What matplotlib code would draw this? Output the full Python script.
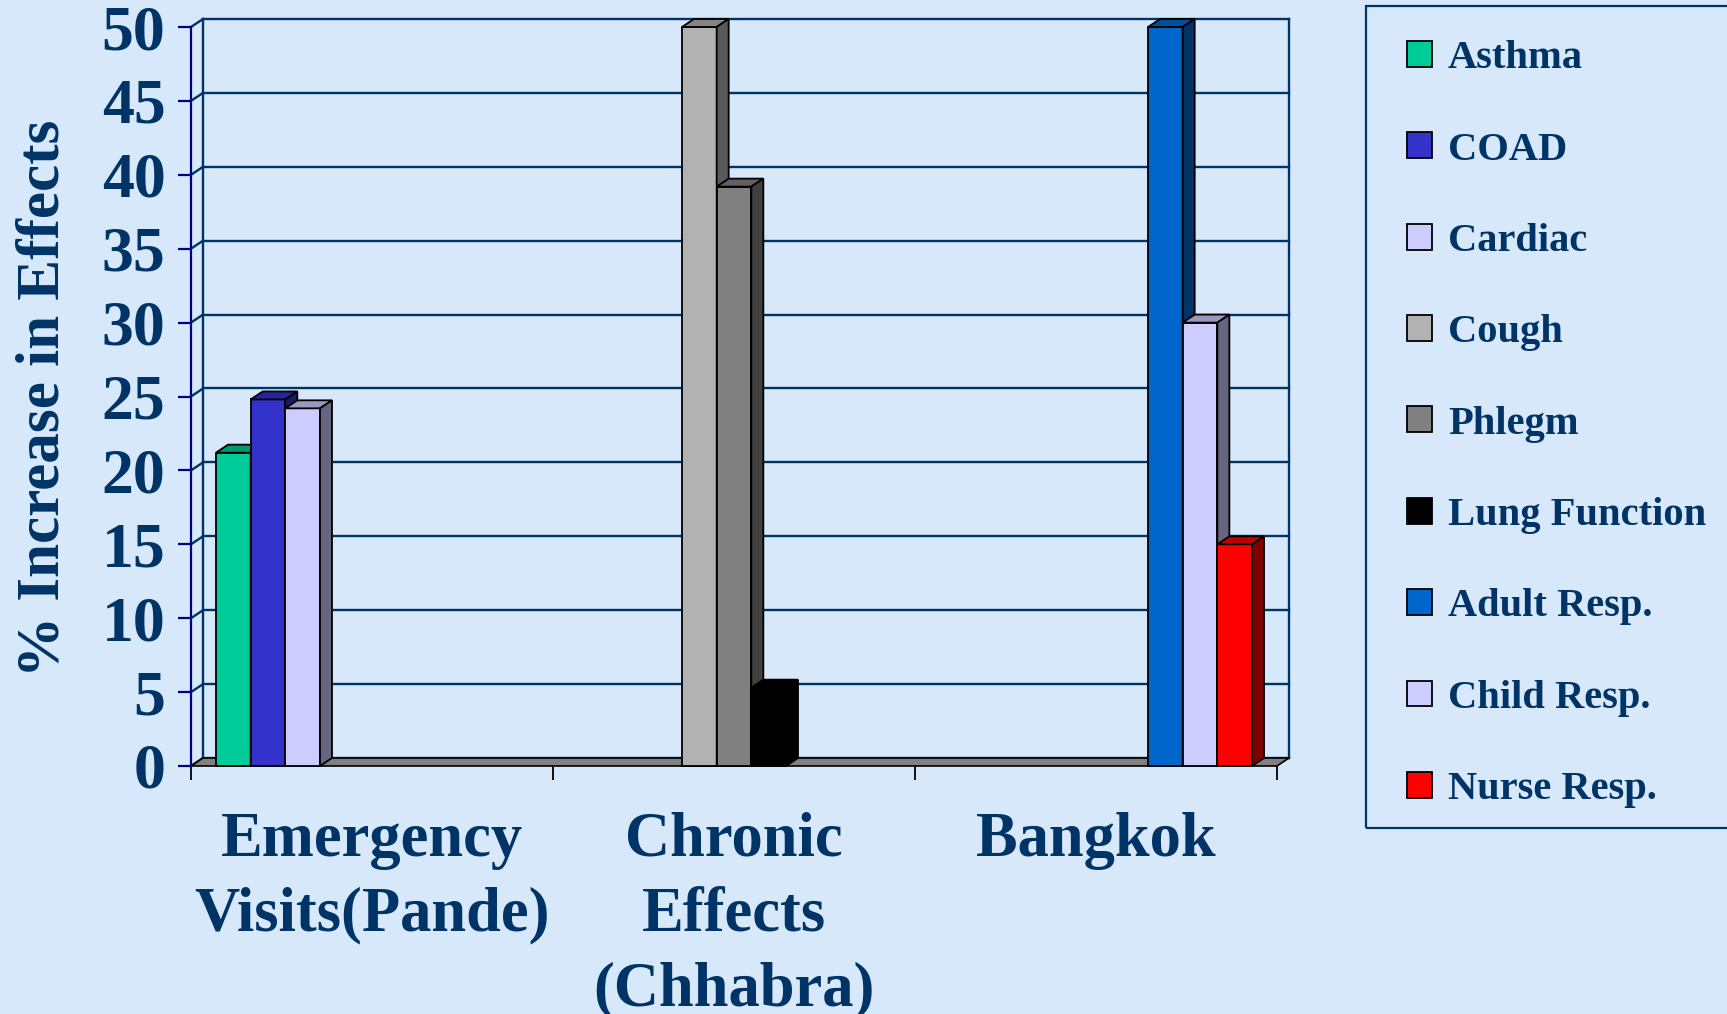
import numpy as np
import matplotlib.pyplot as plt
from matplotlib.patches import Polygon, Patch, Rectangle
from matplotlib.colors import to_rgb

# ===== ДАННЫЕ =====
categories = ['Emergency\nVisits(Pande)', 'Chronic\nEffects\n(Chhabra)', 'Bangkok']
series = ['Asthma', 'COAD', 'Cardiac', 'Cough', 'Phlegm', 'Lung Function',
          'Adult Resp.', 'Child Resp.', 'Nurse Resp.']
asthma = [21.2, 0, 0]
coad = [24.8, 0, 0]
cardiac = [24.2, 0, 0]
cough = [0, 50, 0]
phlegm = [0, 39.2, 0]
lung_function = [0, 5.3, 0]
adult_resp = [0, 0, 50]
child_resp = [0, 0, 30]
nurse_resp = [0, 0, 15]
values = [asthma, coad, cardiac, cough, phlegm, lung_function,
          adult_resp, child_resp, nurse_resp]
y_ticks = [0, 5, 10, 15, 20, 25, 30, 35, 40, 45, 50]

colors = ['#00CC99', '#3333CC', '#CCCCFF', '#B2B2B2', '#808080', '#000000',
          '#0066CC', '#CCCCFF', '#FF0000']

# ===== НАСТРОЙКИ =====
bg = '#D6E8FA'
navy = '#003366'
font = 'Liberation Serif'
W, H = 1727, 1014

# глубина 3D эффекта (в единицах данных)
DX = 12 / 362
DY = 8 / 14.78
gap = 0.069
bw = (1 - 2 * gap) / len(series)

fig = plt.figure(figsize=(W / 100, H / 100), dpi=100, facecolor=bg)
ax = fig.add_axes([191 / W, 1 - 766 / H, (1277 - 191) / W, 739 / H])
ax.set_facecolor('none')
ax.set_xlim(0, 3)
ax.set_ylim(0, 50)

# ===== ЗАДНЯЯ СТЕНКА И СЕТКА =====
for k in y_ticks:
    ax.plot([DX, 3 + DX], [k + DY, k + DY], color=navy, lw=1.7, zorder=1, clip_on=False)
    ax.plot([0, DX], [k, k + DY], color=navy, lw=1.7, zorder=1, clip_on=False)
ax.plot([DX, DX], [DY, 50 + DY], color=navy, lw=1.7, zorder=1, clip_on=False)
ax.plot([3 + DX, 3 + DX], [DY, 50 + DY], color=navy, lw=1.7, zorder=1, clip_on=False)

# пол
floor = Polygon([(0, 0), (3, 0), (3 + DX, DY), (DX, DY)], closed=True,
                facecolor='#808080', edgecolor='black', lw=1.2, zorder=2, clip_on=False)
ax.add_patch(floor)


def shade(c, f):
    r, g, b = to_rgb(c)
    return (r * f, g * f, b * f)


# ===== СТОЛБЦЫ =====
x = np.arange(len(categories))
for j, (vals, col) in enumerate(zip(values, colors)):
    z = 3 + j
    lefts = x + gap + j * bw
    for xl, v in zip(lefts, vals):
        if v <= 0:
            continue
        ax.bar(xl, v, width=bw, align='edge', color=col, edgecolor='black',
               lw=1.3, zorder=z, clip_on=False)
        top = Polygon([(xl, v), (xl + bw, v), (xl + bw + DX, v + DY), (xl + DX, v + DY)],
                      closed=True, facecolor=shade(col, 0.75), edgecolor='black',
                      lw=1.3, zorder=z, clip_on=False)
        side = Polygon([(xl + bw, 0), (xl + bw + DX, DY), (xl + bw + DX, v + DY), (xl + bw, v)],
                       closed=True, facecolor=shade(col, 0.5), edgecolor='black',
                       lw=1.3, zorder=z, clip_on=False)
        ax.add_patch(top)
        ax.add_patch(side)

# ===== ОСИ =====
for s in ['top', 'right', 'bottom']:
    ax.spines[s].set_visible(False)
ax.spines['left'].set_color('#000080')
ax.spines['left'].set_linewidth(1.6)
ax.spines['left'].set_zorder(20)

ax.set_yticks(y_ticks)
ax.tick_params(axis='y', colors='#000080', length=9.4, width=1.6, pad=9,
               labelcolor=navy, labelsize=46)
for lab in ax.get_yticklabels():
    lab.set_fontfamily(font)
    lab.set_fontweight('bold')

ax.set_xticks(x + 0.5)
ax.set_xticklabels(categories, fontfamily=font, fontweight='bold', fontsize=45,
                   color=navy, linespacing=1.38)
ax.tick_params(axis='x', length=0, pad=33)
ax.set_xticks([0, 1, 2, 3], minor=True)
ax.tick_params(axis='x', which='minor', length=10, width=1.3, color='black')

fig.text(44 / W, 1 - 398 / H, '% Increase in Effects', rotation=90, ha='center',
         va='center', fontfamily=font, fontweight='bold', fontsize=44, color=navy)

# ===== ЛЕГЕНДА =====
fig.patches.append(Rectangle((1366 / W, 1 - 828 / H), 0.3, 822 / H,
                             transform=fig.transFigure, facecolor='none',
                             edgecolor=navy, lw=1.6))
handles = [Patch(facecolor=c, edgecolor='black', lw=1.3) for c in colors]
leg = fig.legend(handles, series, loc='upper left',
                 bbox_to_anchor=(1387 / W, 1 - 20 / H), frameon=False,
                 prop={'family': font, 'weight': 'bold', 'size': 29.2},
                 handlelength=0.6, handleheight=0.6, handletextpad=0.4,
                 labelspacing=1.34, borderpad=0)
for t in leg.get_texts():
    t.set_color(navy)

fig.savefig('out.png', dpi=100, facecolor=bg)
